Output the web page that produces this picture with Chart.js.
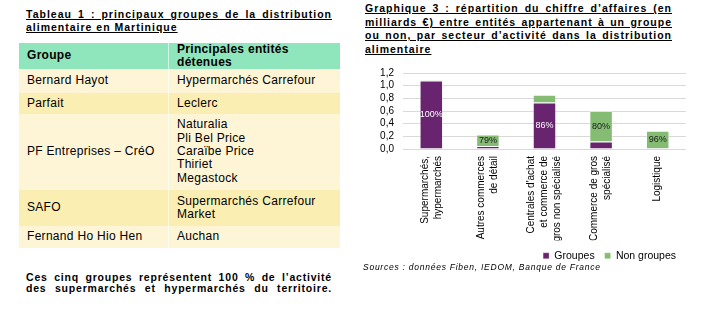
<!DOCTYPE html>
<html lang="fr">
<head>
<meta charset="utf-8">
<title>Distribution alimentaire en Martinique</title>
<script src="https://cdn.jsdelivr.net/npm/chart.js@4.4.1/dist/chart.umd.min.js"></script>
<style>
    body { margin: 0; width: 706px; height: 317px; background: #fff; position: relative; overflow: hidden;
           font-family: "Liberation Sans", Arial, sans-serif; color: #000; }
    .titre { position: absolute; font-weight: bold; font-size: 10.5px; letter-spacing: 1px; }
    .titre div { text-decoration: underline; text-underline-offset: 1px; text-align: justify; text-align-last: justify; }
    .titre div.fin { text-align-last: left; }
    #titreTableau { left: 26px; top: 8px; width: 306px; line-height: 12.7px; }
    #titreGraphique { left: 365px; top: 2.3px; width: 307px; line-height: 13.4px; }

    table { position: absolute; left: 19px; top: 42.7px; width: 321px; border-collapse: collapse;
            font-size: 12px; letter-spacing: 0.3px; line-height: 13.3px; }
    td, th { padding: 0 0 0 8px; vertical-align: middle; text-align: left; }
    th { background: #8fe6bd; font-weight: bold; }
    td + td, th + th { border-left: 1px solid rgba(255,255,255,0.6); }
    tr.clair td { background: #fdf5d6; }
    tr.fonce td { background: #fbeeb2; }

    #note { position: absolute; left: 26px; top: 272px; width: 306px; font-weight: bold; font-size: 10.5px;
            letter-spacing: 0.8px; line-height: 11.3px; text-align: justify; text-align-last: justify; }
    #sources { position: absolute; left: 363px; top: 261.5px; font-style: italic; font-size: 8.5px; letter-spacing: 0.75px; }
    #zoneGraphique { position: absolute; left: 360px; top: 58px; width: 326px; height: 213px; }
</style>
</head>
<body>

<div class="titre" id="titreTableau">
    <div>Tableau 1 : principaux groupes de la distribution</div>
    <div class="fin">alimentaire en Martinique</div>
</div>

<table>
    <tr style="height:26.3px"><th style="width:141px">Groupe</th><th>Principales entités détenues</th></tr>
    <tr class="clair" style="height:23.7px"><td>Bernard Hayot</td><td>Hypermarchés Carrefour</td></tr>
    <tr class="fonce" style="height:20.6px"><td>Parfait</td><td>Leclerc</td></tr>
    <tr class="clair" style="height:76px"><td>PF Entreprises – CréO</td><td>Naturalia<br>Pli Bel Price<br>Caraïbe Price<br>Thiriet<br>Megastock</td></tr>
    <tr class="fonce" style="height:36.7px"><td>SAFO</td><td>Supermarchés Carrefour<br>Market</td></tr>
    <tr class="clair" style="height:21.3px"><td>Fernand Ho Hio Hen</td><td>Auchan</td></tr>
</table>

<div id="note">Ces cinq groupes représentent 100 % de l’activité des supermarchés et hypermarchés du territoire.</div>

<div class="titre" id="titreGraphique">
    <div>Graphique 3 : répartition du chiffre d’affaires (en</div>
    <div>milliards €) entre entités appartenant à un groupe</div>
    <div>ou non, par secteur d’activité dans la distribution</div>
    <div class="fin">alimentaire</div>
</div>

<div id="zoneGraphique"><canvas id="graphique" width="326" height="213"></canvas></div>
<div id="sources">Sources : données Fiben, IEDOM, Banque de France</div>

<script>
// données (milliards €)
const secteurs = [
    ['Supermarchés,', 'hypermarchés'],
    ['Autres commerces', 'de détail'],
    ["Centrales d'achat", 'et commerce de', 'gros non spécialisé'],
    ['Commerce de gros', 'spécialisé'],
    ['Logistique']
];
const groupes = [1.08, 0.048, 0.735, 0.12, 0.012];
const nonGroupes = [0.015, 0.18, 0.12, 0.48, 0.276];
const etiquettesGroupes = ['100%', '', '86%', '', ''];
const etiquettesNonGroupes = ['', '79%', '', '80%', '96%'];
const ticksY = ['0,0', '0,2', '0,4', '0,6', '0,8', '1,0', '1,2'];

const POLICE = '"Liberation Sans", Arial, sans-serif';

// pourcentages écrits au milieu de chaque segment
const pluginEtiquettes = {
    id: 'etiquettes',
    afterDatasetsDraw(chart) {
        const ctx = chart.ctx;
        chart.data.datasets.forEach((ds, i) => {
            const meta = chart.getDatasetMeta(i);
            meta.data.forEach((barre, j) => {
                const texte = ds.etiquettes[j];
                if (!texte) return;
                ctx.save();
                ctx.fillStyle = ds.couleurTexte;
                ctx.font = '9px ' + POLICE;
                ctx.textAlign = 'center';
                ctx.textBaseline = 'middle';
                ctx.fillText(texte, barre.x, (barre.y + barre.base) / 2);
                ctx.restore();
            });
        });
    }
};

// les libellés verticaux sur plusieurs lignes ne sont pas centrés sur la barre : on recale
const pluginCentrage = {
    id: 'centrage',
    beforeDraw(chart) {
        const echelle = chart.scales.x;
        echelle.getLabelItems().forEach(item => {
            if (item.recale || !Array.isArray(item.label)) return;
            const hauteur = echelle._resolveTickFontOptions(0).lineHeight;
            item.options.translation[0] -= (item.label.length - 1) * hauteur / 2;
            item.recale = true;
        });
    }
};

new Chart(document.getElementById('graphique').getContext('2d'), {
    type: 'bar',
    data: {
        labels: secteurs,
        datasets: [{
            label: 'Groupes',
            data: groupes,
            etiquettes: etiquettesGroupes,
            couleurTexte: '#ffffff',
            backgroundColor: '#68246e',
            borderColor: 'rgba(255,255,255,0.3)',
            borderWidth: 1,
            categoryPercentage: 1,
            barPercentage: 0.415
        }, {
            label: 'Non groupes',
            data: nonGroupes,
            etiquettes: etiquettesNonGroupes,
            couleurTexte: '#1a1a1a',
            backgroundColor: '#85bc73',
            borderColor: 'rgba(255,255,255,0.3)',
            borderWidth: 1,
            categoryPercentage: 1,
            barPercentage: 0.415
        }]
    },
    options: {
        responsive: false,
        animation: false,
        devicePixelRatio: 1,
        layout: { padding: { top: 12, right: 0, bottom: 0, left: 0 } },
        scales: {
            x: {
                stacked: true,
                grid: { display: false, drawTicks: false },
                border: { display: false },
                ticks: {
                    minRotation: 90, maxRotation: 90, autoSkip: false, padding: 7,
                    color: '#000',
                    font: { family: POLICE, size: 10, lineHeight: 1.3 }
                },
                afterFit: (echelle) => { echelle.height = 91.5; }
            },
            y: {
                stacked: true,
                min: 0, max: 1.2,
                grid: { color: '#d9d9d9', drawTicks: false },
                border: { display: false },
                ticks: {
                    stepSize: 0.2, padding: 9, color: '#000', autoSkip: false,
                    font: { family: POLICE, size: 10 },
                    callback: (v, i) => ticksY[i]
                },
                afterFit: (echelle) => { echelle.width = 43; }
            }
        },
        plugins: {
            legend: {
                position: 'bottom',
                align: 'end',
                labels: {
                    boxWidth: 6, boxHeight: 6, padding: 10, color: '#000',
                    font: { family: POLICE, size: 10.5 }
                }
            },
            tooltip: { enabled: false }
        }
    },
    plugins: [pluginEtiquettes, pluginCentrage]
});
</script>
</body>
</html>
